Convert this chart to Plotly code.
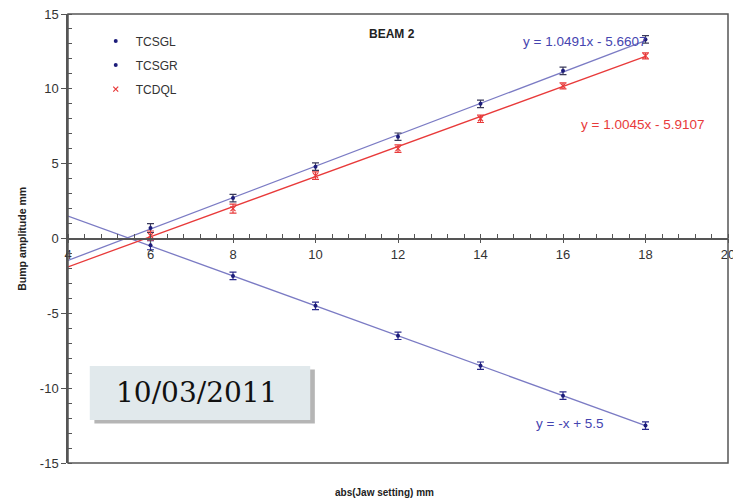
import plotly.graph_objects as go

# ---- data ----
x_set = [6, 8, 10, 12, 14, 16, 18]
tcsgl = [0.7, 2.7, 4.8, 6.8, 9.0, 11.2, 13.3]
tcsgr = [-0.45, -2.5, -4.5, -6.5, -8.5, -10.5, -12.5]
tcdql = [0.2, 2.0, 4.2, 6.0, 8.0, 10.2, 12.2]
err_blue = [0.3, 0.25, 0.25, 0.25, 0.25, 0.25, 0.25]
err_red = [0.3, 0.3, 0.25, 0.25, 0.25, 0.2, 0.2]

fit_x = [4, 18]
fit_slope = {"TCSGL": 1.0491, "TCSGR": -1.0, "TCDQL": 1.0045}
fit_icpt = {"TCSGL": -5.6607, "TCSGR": 5.5, "TCDQL": -5.9107}
fit_labels = {"TCSGL": "y = 1.0491x - 5.6607", "TCSGR": "y = -x + 5.5",
              "TCDQL": "y = 1.0045x - 5.9107"}

x_ticks = [4, 6, 8, 10, 12, 14, 16, 18, 20]
y_ticks = [-15, -10, -5, 0, 5, 10, 15]

NAVY = "#1c1c7a"
BLUE_LINE = "#7b7bc4"
RED = "#e83a3a"
EQ_BLUE = "#4545b0"

fig = go.Figure()

def fit_y(name):
    return [fit_slope[name] * v + fit_icpt[name] for v in fit_x]

# trend lines
for name, col in [("TCSGL", BLUE_LINE), ("TCSGR", BLUE_LINE), ("TCDQL", RED)]:
    fig.add_trace(go.Scatter(x=fit_x, y=fit_y(name), mode="lines",
                             line=dict(color=col, width=1.3), showlegend=False,
                             hoverinfo="skip"))

fig.add_trace(go.Scatter(x=x_set, y=tcsgl, mode="markers", name="TCSGL",
                         legendgroup="a",
                         marker=dict(color=NAVY, size=4, symbol="circle"),
                         error_y=dict(type="data", array=err_blue, color="#3a3a5a",
                                      thickness=1.2, width=3.5)))
fig.add_trace(go.Scatter(x=x_set, y=tcsgr, mode="markers", name="TCSGR",
                         legendgroup="b",
                         marker=dict(color=NAVY, size=4, symbol="circle"),
                         error_y=dict(type="data", array=err_blue, color="#2a2a8a",
                                      thickness=1.2, width=3.5)))
fig.add_trace(go.Scatter(x=x_set, y=tcdql, mode="markers", name="TCDQL",
                         legendgroup="c",
                         marker=dict(color=RED, size=5, symbol="x-thin",
                                     line=dict(color=RED, width=1.2)),
                         error_y=dict(type="data", array=err_red, color=RED,
                                      thickness=1.2, width=3.5)))

# equations
eq_font = dict(size=13.5, family="Liberation Sans")
fig.add_annotation(x=0.783, y=0.938, xref="paper", yref="paper", text=fit_labels["TCSGL"],
                   showarrow=False, font=dict(color=EQ_BLUE, **eq_font),
                   xanchor="center", yanchor="middle")
fig.add_annotation(x=0.871, y=0.755, xref="paper", yref="paper", text=fit_labels["TCDQL"],
                   showarrow=False, font=dict(color=RED, **eq_font),
                   xanchor="center", yanchor="middle")
fig.add_annotation(x=0.761, y=0.089, xref="paper", yref="paper", text=fit_labels["TCSGR"],
                   showarrow=False, font=dict(color=EQ_BLUE, **eq_font),
                   xanchor="center", yanchor="middle")

# title
fig.add_annotation(x=0.491, y=0.956, xref="paper", yref="paper", text="<b>BEAM 2</b>",
                   showarrow=False, font=dict(color="#222", size=12, family="Liberation Sans"),
                   xanchor="center", yanchor="middle")

# axis titles
fig.add_annotation(x=-0.083, y=0.5, xref="paper", yref="paper", text="<b>Bump amplitude mm</b>",
                   textangle=-90, showarrow=False,
                   font=dict(color="#222", size=10.5, family="Liberation Sans"))
fig.add_annotation(x=0.48, y=-0.065, xref="paper", yref="paper", text="<b>abs(Jaw setting) mm</b>",
                   showarrow=False, yanchor="middle",
                   font=dict(color="#222", size=10, family="Liberation Sans"))

# date box with shadow
fig.add_shape(type="rect", xref="paper", yref="paper", x0=0.040, x1=0.374, y0=0.088, y1=0.208,
              fillcolor="rgba(90,90,90,0.45)", line=dict(width=0), layer="above")
fig.add_shape(type="rect", xref="paper", yref="paper", x0=0.033, x1=0.367, y0=0.096, y1=0.216,
              fillcolor="#e1e9ec", line=dict(width=0), layer="above")
fig.add_annotation(x=0.194, y=0.156, xref="paper", yref="paper", text="10/03/2011",
                   showarrow=False, font=dict(color="#111", size=28, family="DejaVu Serif"),
                   xanchor="center", yanchor="middle")

# plot frame
fig.add_shape(type="rect", xref="paper", yref="paper", x0=0, x1=1, y0=0, y1=1,
              line=dict(color="#555", width=1.5), layer="above")

fig.update_layout(
    width=733, height=502,
    margin=dict(l=68, r=5, t=14, b=39, autoexpand=False),
    paper_bgcolor="white", plot_bgcolor="white",
    font=dict(family="Liberation Sans", size=12, color="#333"),
    legend=dict(x=0.042, y=0.972, xanchor="left", yanchor="top",
                bgcolor="rgba(0,0,0,0)", font=dict(size=12, color="#333"),
                traceorder="grouped", tracegroupgap=5, itemwidth=30),
    xaxis=dict(range=[4, 20], tickvals=x_ticks, ticktext=[str(v) for v in x_ticks],
               anchor="free", position=0.5, showline=True, linecolor="#555", linewidth=1.5,
               ticks="outside", ticklen=4, tickcolor="#555", showgrid=False, zeroline=False,
               tickfont=dict(size=13, color="#333"), ticklabeloverflow="allow",
               automargin=False,
               minor=dict(dtick=0.4, tick0=4, ticks="inside", ticklen=4, tickcolor="#555", showgrid=False)),
    yaxis=dict(range=[-15, 15], tickvals=y_ticks, ticktext=[str(v) for v in y_ticks],
               showline=True, linecolor="#555", linewidth=1.5, automargin=False,
               ticks="outside", ticklen=5, tickcolor="#555", showgrid=False, zeroline=False,
               tickfont=dict(size=13, color="#333"),
               minor=dict(dtick=1, ticks="inside", ticklen=4, tickcolor="#555", showgrid=False)),
)

fig.write_html("out.html")
